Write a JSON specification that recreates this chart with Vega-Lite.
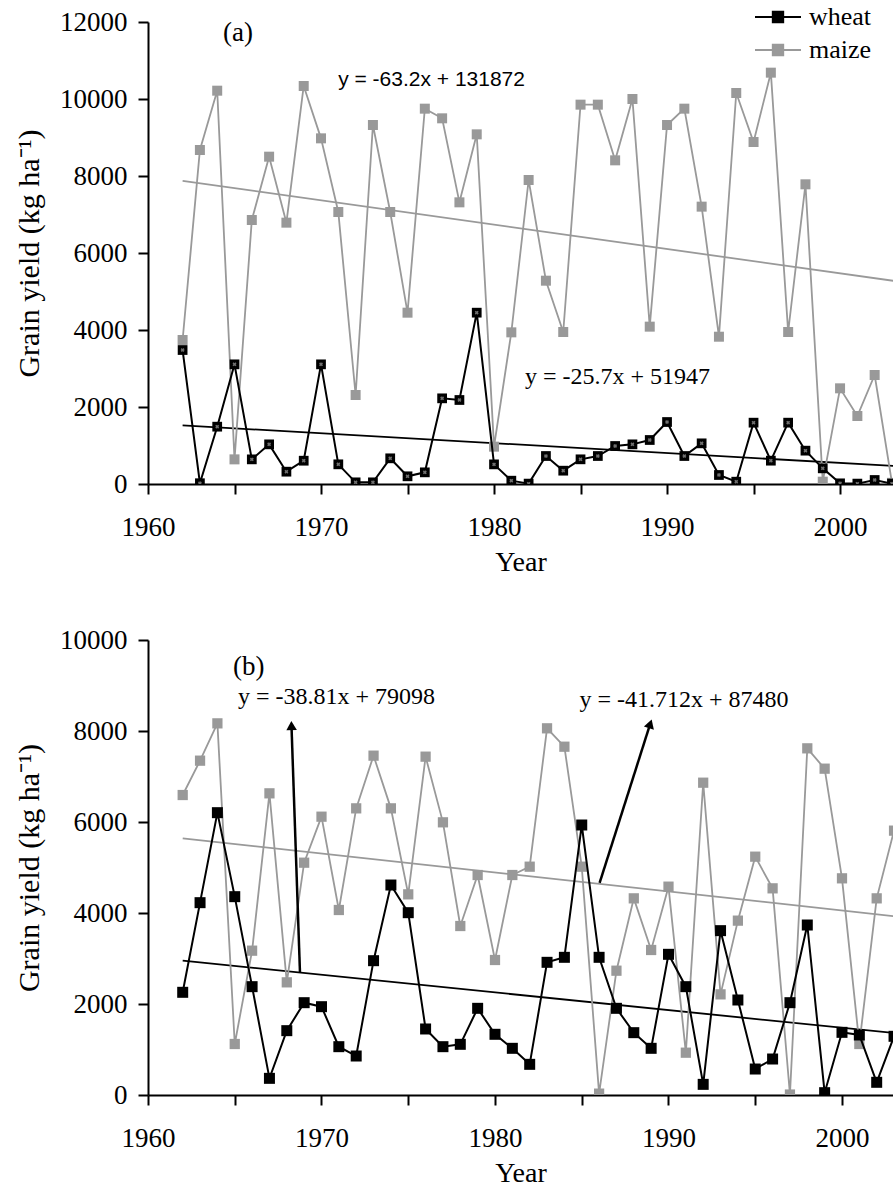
{
  "$schema": "https://vega.github.io/schema/vega-lite/v6.json",
  "background": "white",
  "padding": {"left": 14, "top": 4, "right": 0, "bottom": 0},
  "spacing": 50,
  "config": {
    "font": "Liberation Serif",
    "view": {"stroke": null},
    "axis": {
      "domainColor": "black", "domainWidth": 2,
      "tickColor": "black", "tickWidth": 2, "tickSize": 10,
      "labelFont": "Liberation Serif", "labelFontSize": 27, "labelColor": "black",
      "titleFont": "Liberation Serif", "titleFontWeight": "normal", "titleColor": "black",
      "grid": false, "labelFlush": false, "labelOverlap": false
    }
  },
  "resolve": {"scale": {"color": "independent"}, "legend": {"color": "independent"}},
  "datasets": {
    "yieldA": [
      {"crop": "maize", "year": 1962, "yield": 3740}, {"crop": "maize", "year": 1963, "yield": 8675},
      {"crop": "maize", "year": 1964, "yield": 10216}, {"crop": "maize", "year": 1965, "yield": 640},
      {"crop": "maize", "year": 1966, "yield": 6857}, {"crop": "maize", "year": 1967, "yield": 8502},
      {"crop": "maize", "year": 1968, "yield": 6788}, {"crop": "maize", "year": 1969, "yield": 10338},
      {"crop": "maize", "year": 1970, "yield": 8978}, {"crop": "maize", "year": 1971, "yield": 7065},
      {"crop": "maize", "year": 1972, "yield": 2312}, {"crop": "maize", "year": 1973, "yield": 9325},
      {"crop": "maize", "year": 1974, "yield": 7065}, {"crop": "maize", "year": 1975, "yield": 4450},
      {"crop": "maize", "year": 1976, "yield": 9749}, {"crop": "maize", "year": 1977, "yield": 9498},
      {"crop": "maize", "year": 1978, "yield": 7316}, {"crop": "maize", "year": 1979, "yield": 9082},
      {"crop": "maize", "year": 1980, "yield": 970}, {"crop": "maize", "year": 1981, "yield": 3939},
      {"crop": "maize", "year": 1982, "yield": 7896}, {"crop": "maize", "year": 1983, "yield": 5281},
      {"crop": "maize", "year": 1984, "yield": 3948}, {"crop": "maize", "year": 1985, "yield": 9853},
      {"crop": "maize", "year": 1986, "yield": 9853}, {"crop": "maize", "year": 1987, "yield": 8407},
      {"crop": "maize", "year": 1988, "yield": 10000}, {"crop": "maize", "year": 1989, "yield": 4087},
      {"crop": "maize", "year": 1990, "yield": 9325}, {"crop": "maize", "year": 1991, "yield": 9749},
      {"crop": "maize", "year": 1992, "yield": 7204}, {"crop": "maize", "year": 1993, "yield": 3826},
      {"crop": "maize", "year": 1994, "yield": 10156}, {"crop": "maize", "year": 1995, "yield": 8883},
      {"crop": "maize", "year": 1996, "yield": 10684}, {"crop": "maize", "year": 1997, "yield": 3948},
      {"crop": "maize", "year": 1998, "yield": 7784}, {"crop": "maize", "year": 1999, "yield": 60},
      {"crop": "maize", "year": 2000, "yield": 2485}, {"crop": "maize", "year": 2001, "yield": 1766},
      {"crop": "maize", "year": 2002, "yield": 2831}, {"crop": "maize", "year": 2003, "yield": 30},
      {"crop": "wheat", "year": 1962, "yield": 3480}, {"crop": "wheat", "year": 1963, "yield": 20},
      {"crop": "wheat", "year": 1964, "yield": 1489}, {"crop": "wheat", "year": 1965, "yield": 3108},
      {"crop": "wheat", "year": 1966, "yield": 640}, {"crop": "wheat", "year": 1967, "yield": 1030},
      {"crop": "wheat", "year": 1968, "yield": 320}, {"crop": "wheat", "year": 1969, "yield": 605},
      {"crop": "wheat", "year": 1970, "yield": 3108}, {"crop": "wheat", "year": 1971, "yield": 511},
      {"crop": "wheat", "year": 1972, "yield": 43}, {"crop": "wheat", "year": 1973, "yield": 43},
      {"crop": "wheat", "year": 1974, "yield": 667}, {"crop": "wheat", "year": 1975, "yield": 200},
      {"crop": "wheat", "year": 1976, "yield": 303}, {"crop": "wheat", "year": 1977, "yield": 2225},
      {"crop": "wheat", "year": 1978, "yield": 2182}, {"crop": "wheat", "year": 1979, "yield": 4450},
      {"crop": "wheat", "year": 1980, "yield": 510}, {"crop": "wheat", "year": 1981, "yield": 86},
      {"crop": "wheat", "year": 1982, "yield": 10}, {"crop": "wheat", "year": 1983, "yield": 727},
      {"crop": "wheat", "year": 1984, "yield": 346}, {"crop": "wheat", "year": 1985, "yield": 641},
      {"crop": "wheat", "year": 1986, "yield": 727}, {"crop": "wheat", "year": 1987, "yield": 987},
      {"crop": "wheat", "year": 1988, "yield": 1030}, {"crop": "wheat", "year": 1989, "yield": 1143},
      {"crop": "wheat", "year": 1990, "yield": 1610}, {"crop": "wheat", "year": 1991, "yield": 727},
      {"crop": "wheat", "year": 1992, "yield": 1056}, {"crop": "wheat", "year": 1993, "yield": 234},
      {"crop": "wheat", "year": 1994, "yield": 60}, {"crop": "wheat", "year": 1995, "yield": 1593},
      {"crop": "wheat", "year": 1996, "yield": 606}, {"crop": "wheat", "year": 1997, "yield": 1593},
      {"crop": "wheat", "year": 1998, "yield": 866}, {"crop": "wheat", "year": 1999, "yield": 407},
      {"crop": "wheat", "year": 2000, "yield": 17}, {"crop": "wheat", "year": 2001, "yield": 10},
      {"crop": "wheat", "year": 2002, "yield": 104}, {"crop": "wheat", "year": 2003, "yield": 10}
    ],
    "yieldB": [
      {"crop": "maize", "year": 1962, "yield": 6593}, {"crop": "maize", "year": 1963, "yield": 7348},
      {"crop": "maize", "year": 1964, "yield": 8168}, {"crop": "maize", "year": 1965, "yield": 1121},
      {"crop": "maize", "year": 1966, "yield": 3172}, {"crop": "maize", "year": 1967, "yield": 6630},
      {"crop": "maize", "year": 1968, "yield": 2476}, {"crop": "maize", "year": 1969, "yield": 5106},
      {"crop": "maize", "year": 1970, "yield": 6117}, {"crop": "maize", "year": 1971, "yield": 4066},
      {"crop": "maize", "year": 1972, "yield": 6300}, {"crop": "maize", "year": 1973, "yield": 7458},
      {"crop": "maize", "year": 1974, "yield": 6300}, {"crop": "maize", "year": 1975, "yield": 4410},
      {"crop": "maize", "year": 1976, "yield": 7436}, {"crop": "maize", "year": 1977, "yield": 5993},
      {"crop": "maize", "year": 1978, "yield": 3714}, {"crop": "maize", "year": 1979, "yield": 4835},
      {"crop": "maize", "year": 1980, "yield": 2967}, {"crop": "maize", "year": 1981, "yield": 4835},
      {"crop": "maize", "year": 1982, "yield": 5018}, {"crop": "maize", "year": 1983, "yield": 8059},
      {"crop": "maize", "year": 1984, "yield": 7655}, {"crop": "maize", "year": 1985, "yield": 5018},
      {"crop": "maize", "year": 1986, "yield": 30}, {"crop": "maize", "year": 1987, "yield": 2732},
      {"crop": "maize", "year": 1988, "yield": 4322}, {"crop": "maize", "year": 1989, "yield": 3187},
      {"crop": "maize", "year": 1990, "yield": 4579}, {"crop": "maize", "year": 1991, "yield": 930},
      {"crop": "maize", "year": 1992, "yield": 6864}, {"crop": "maize", "year": 1993, "yield": 2212},
      {"crop": "maize", "year": 1994, "yield": 3832}, {"crop": "maize", "year": 1995, "yield": 5238},
      {"crop": "maize", "year": 1996, "yield": 4542}, {"crop": "maize", "year": 1997, "yield": 10},
      {"crop": "maize", "year": 1998, "yield": 7619}, {"crop": "maize", "year": 1999, "yield": 7172},
      {"crop": "maize", "year": 2000, "yield": 4762}, {"crop": "maize", "year": 2001, "yield": 1121},
      {"crop": "maize", "year": 2002, "yield": 4322}, {"crop": "maize", "year": 2003, "yield": 5810},
      {"crop": "wheat", "year": 1962, "yield": 2257}, {"crop": "wheat", "year": 1963, "yield": 4227},
      {"crop": "wheat", "year": 1964, "yield": 6205}, {"crop": "wheat", "year": 1965, "yield": 4359},
      {"crop": "wheat", "year": 1966, "yield": 2381}, {"crop": "wheat", "year": 1967, "yield": 366},
      {"crop": "wheat", "year": 1968, "yield": 1414}, {"crop": "wheat", "year": 1969, "yield": 2029},
      {"crop": "wheat", "year": 1970, "yield": 1941}, {"crop": "wheat", "year": 1971, "yield": 1062},
      {"crop": "wheat", "year": 1972, "yield": 857}, {"crop": "wheat", "year": 1973, "yield": 2952},
      {"crop": "wheat", "year": 1974, "yield": 4615}, {"crop": "wheat", "year": 1975, "yield": 4007},
      {"crop": "wheat", "year": 1976, "yield": 1451}, {"crop": "wheat", "year": 1977, "yield": 1062},
      {"crop": "wheat", "year": 1978, "yield": 1114}, {"crop": "wheat", "year": 1979, "yield": 1905},
      {"crop": "wheat", "year": 1980, "yield": 1334}, {"crop": "wheat", "year": 1981, "yield": 1026},
      {"crop": "wheat", "year": 1982, "yield": 674}, {"crop": "wheat", "year": 1983, "yield": 2916},
      {"crop": "wheat", "year": 1984, "yield": 3026}, {"crop": "wheat", "year": 1985, "yield": 5934},
      {"crop": "wheat", "year": 1986, "yield": 3026}, {"crop": "wheat", "year": 1987, "yield": 1905},
      {"crop": "wheat", "year": 1988, "yield": 1370}, {"crop": "wheat", "year": 1989, "yield": 1026},
      {"crop": "wheat", "year": 1990, "yield": 3092}, {"crop": "wheat", "year": 1991, "yield": 2381},
      {"crop": "wheat", "year": 1992, "yield": 234}, {"crop": "wheat", "year": 1993, "yield": 3612},
      {"crop": "wheat", "year": 1994, "yield": 2088}, {"crop": "wheat", "year": 1995, "yield": 571},
      {"crop": "wheat", "year": 1996, "yield": 791}, {"crop": "wheat", "year": 1997, "yield": 2029},
      {"crop": "wheat", "year": 1998, "yield": 3736}, {"crop": "wheat", "year": 1999, "yield": 51},
      {"crop": "wheat", "year": 2000, "yield": 1377}, {"crop": "wheat", "year": 2001, "yield": 1319},
      {"crop": "wheat", "year": 2002, "yield": 279}, {"crop": "wheat", "year": 2003, "yield": 1290}
    ],
    "trendA": [
      {"crop": "maize", "year": 1962, "yield": 7873.6}, {"crop": "maize", "year": 2004, "yield": 5219.2},
      {"crop": "wheat", "year": 1962, "yield": 1523.6}, {"crop": "wheat", "year": 2004, "yield": 444.2}
    ],
    "trendB": [
      {"crop": "maize", "year": 1962, "yield": 5641.06}, {"crop": "maize", "year": 2004, "yield": 3889.15},
      {"crop": "wheat", "year": 1962, "yield": 2952.78}, {"crop": "wheat", "year": 2004, "yield": 1322.76}
    ],
    "one": [{}]
  },
  "vconcat": [
    {
      "width": 745,
      "height": 462,
      "layer": [
        {
          "encoding": {
            "x": {
              "field": "year", "type": "quantitative",
              "scale": {"domain": [1960, 2003.06], "nice": false, "zero": false},
              "axis": {
                "values": [1960, 1965, 1970, 1975, 1980, 1985, 1990, 1995, 2000],
                "labelExpr": "datum.value % 10 === 0 ? datum.label : ''",
                "format": "d", "title": "Year", "titleFontSize": 28,
                "labelFont": "Liberation Serif", "labelFontSize": 27,
                "labelPadding": 20, "titlePadding": 8
              }
            },
            "y": {
              "field": "yield", "type": "quantitative",
              "scale": {"domain": [0, 12000], "nice": false},
              "axis": {
                "values": [0, 2000, 4000, 6000, 8000, 10000, 12000],
                "format": "d", "title": "Grain yield (kg ha⁻¹)", "titleFontSize": 30,
                "labelFont": "Liberation Serif", "labelFontSize": 27,
                "labelPadding": 11, "titlePadding": 15
              }
            }
          },
          "layer": [
            {
              "data": {"name": "trendA"},
              "mark": {"type": "line", "strokeWidth": 1.8, "clip": true},
              "encoding": {
                "color": {
                  "field": "crop", "type": "nominal",
                  "scale": {"domain": ["wheat", "maize"], "range": ["#000000", "#999999"]},
                  "legend": {
                    "title": null, "orient": "none", "legendX": 617, "legendY": -18,
                    "direction": "vertical", "padding": 0, "rowPadding": 7,
                    "symbolType": "M-2,0H2M-0.45,-0.45H0.45V0.45H-0.45Z",
                    "symbolSize": 529, "symbolStrokeWidth": 2,
                    "labelFont": "Liberation Serif", "labelFontSize": 26, "labelColor": "black",
                    "labelOffset": 18, "values": ["wheat", "maize"],
                    "encode": {"symbols": {"update": {
                      "fill": {"signal": "datum.value === 'wheat' ? '#000000' : '#999999'"},
                      "stroke": {"signal": "datum.value === 'wheat' ? '#000000' : '#999999'"},
                      "opacity": {"value": 1}
                    }}}
                  }
                }
              }
            },
            {
              "data": {"name": "yieldA"},
              "transform": [{"filter": "datum.crop === 'maize'"}],
              "mark": {"type": "line", "strokeWidth": 1.8, "clip": true},
              "encoding": {"color": {"field": "crop", "type": "nominal", "scale": {"domain": ["wheat", "maize"], "range": ["#000000", "#999999"]}}}
            },
            {
              "data": {"name": "yieldA"},
              "transform": [{"filter": "datum.crop === 'maize'"}],
              "mark": {"type": "point", "shape": "square", "filled": true, "size": 100, "opacity": 1, "clip": true},
              "encoding": {"color": {"field": "crop", "type": "nominal", "scale": {"domain": ["wheat", "maize"], "range": ["#000000", "#999999"]}}}
            },
            {
              "data": {"name": "yieldA"},
              "transform": [{"filter": "datum.crop === 'wheat'"}],
              "mark": {"type": "line", "strokeWidth": 2, "clip": true},
              "encoding": {"color": {"field": "crop", "type": "nominal", "scale": {"domain": ["wheat", "maize"], "range": ["#000000", "#999999"]}}}
            },
            {
              "data": {"name": "yieldA"},
              "transform": [{"filter": "datum.crop === 'wheat'"}],
              "mark": {"type": "point", "shape": "square", "filled": true, "size": 95, "opacity": 1, "clip": true},
              "encoding": {"color": {"field": "crop", "type": "nominal", "scale": {"domain": ["wheat", "maize"], "range": ["#000000", "#999999"]}}}
            },
            {
              "data": {"name": "yieldA"},
              "transform": [{"filter": "datum.crop === 'wheat'"}],
              "mark": {"type": "point", "shape": "cross", "angle": 45, "filled": true, "size": 16, "opacity": 1, "color": "#6f6f6f", "clip": true}
            }
          ]
        },
        {
          "data": {"name": "one"},
          "mark": {"type": "text", "text": "(a)", "font": "Liberation Serif", "fontSize": 27, "color": "black", "align": "center", "baseline": "middle"},
          "encoding": {"x": {"datum": 1965.2}, "y": {"datum": 11714}}
        },
        {
          "data": {"name": "one"},
          "mark": {"type": "text", "text": "y = -63.2x + 131872", "font": "Liberation Sans", "fontSize": 21, "color": "black", "align": "center", "baseline": "middle"},
          "encoding": {"x": {"datum": 1976.39}, "y": {"datum": 10494}}
        },
        {
          "data": {"name": "one"},
          "mark": {"type": "text", "text": "y = -25.7x + 51947", "font": "Liberation Serif", "fontSize": 24, "color": "black", "align": "center", "baseline": "middle"},
          "encoding": {"x": {"datum": 1987.14}, "y": {"datum": 2779}}
        }
      ]
    },
    {
      "width": 745,
      "height": 455,
      "layer": [
        {
          "encoding": {
            "x": {
              "field": "year", "type": "quantitative",
              "scale": {"domain": [1960, 2002.94], "nice": false, "zero": false},
              "axis": {
                "values": [1960, 1965, 1970, 1975, 1980, 1985, 1990, 1995, 2000],
                "labelExpr": "datum.value % 10 === 0 ? datum.label : ''",
                "format": "d", "title": "Year", "titleFontSize": 28,
                "labelFont": "Liberation Serif", "labelFontSize": 27,
                "labelPadding": 20, "titlePadding": 8
              }
            },
            "y": {
              "field": "yield", "type": "quantitative",
              "scale": {"domain": [0, 10000], "nice": false},
              "axis": {
                "values": [0, 2000, 4000, 6000, 8000, 10000],
                "format": "d", "title": "Grain yield (kg ha⁻¹)", "titleFontSize": 30,
                "labelFont": "Liberation Serif", "labelFontSize": 27,
                "labelPadding": 11, "titlePadding": 15
              }
            }
          },
          "layer": [
            {
              "data": {"name": "trendB"},
              "mark": {"type": "line", "strokeWidth": 1.8, "clip": true},
              "encoding": {"color": {"field": "crop", "type": "nominal", "scale": {"domain": ["wheat", "maize"], "range": ["#000000", "#999999"]}, "legend": null}}
            },
            {
              "data": {"name": "yieldB"},
              "transform": [{"filter": "datum.crop === 'maize'"}],
              "mark": {"type": "line", "strokeWidth": 1.8, "clip": true},
              "encoding": {"color": {"field": "crop", "type": "nominal", "scale": {"domain": ["wheat", "maize"], "range": ["#000000", "#999999"]}, "legend": null}}
            },
            {
              "data": {"name": "yieldB"},
              "transform": [{"filter": "datum.crop === 'maize'"}],
              "mark": {"type": "point", "shape": "square", "filled": true, "size": 105, "opacity": 1, "clip": true},
              "encoding": {"color": {"field": "crop", "type": "nominal", "scale": {"domain": ["wheat", "maize"], "range": ["#000000", "#999999"]}, "legend": null}}
            },
            {
              "data": {"name": "yieldB"},
              "transform": [{"filter": "datum.crop === 'wheat'"}],
              "mark": {"type": "line", "strokeWidth": 2, "clip": true},
              "encoding": {"color": {"field": "crop", "type": "nominal", "scale": {"domain": ["wheat", "maize"], "range": ["#000000", "#999999"]}, "legend": null}}
            },
            {
              "data": {"name": "yieldB"},
              "transform": [{"filter": "datum.crop === 'wheat'"}],
              "mark": {"type": "point", "shape": "square", "filled": true, "size": 121, "opacity": 1, "clip": true},
              "encoding": {"color": {"field": "crop", "type": "nominal", "scale": {"domain": ["wheat", "maize"], "range": ["#000000", "#999999"]}, "legend": null}}
            }
          ]
        },
        {
          "data": {"name": "one"},
          "mark": {"type": "rule", "strokeWidth": 2.5, "color": "black"},
          "encoding": {"x": {"datum": 1968.76}, "y": {"datum": 2690}, "x2": {"datum": 1968.27}, "y2": {"datum": 8120}}
        },
        {
          "data": {"name": "one"},
          "mark": {"type": "point", "shape": "triangle-up", "filled": true, "size": 110, "angle": -2, "color": "black", "opacity": 1},
          "encoding": {"x": {"datum": 1968.27}, "y": {"datum": 8120}}
        },
        {
          "data": {"name": "one"},
          "mark": {"type": "rule", "strokeWidth": 2.5, "color": "black"},
          "encoding": {"x": {"datum": 1986.03}, "y": {"datum": 4660}, "x2": {"datum": 1988.95}, "y2": {"datum": 8160}}
        },
        {
          "data": {"name": "one"},
          "mark": {"type": "point", "shape": "triangle-up", "filled": true, "size": 110, "angle": 18, "color": "black", "opacity": 1},
          "encoding": {"x": {"datum": 1988.95}, "y": {"datum": 8160}}
        },
        {
          "data": {"name": "one"},
          "mark": {"type": "text", "text": "(b)", "font": "Liberation Serif", "fontSize": 27, "color": "black", "align": "center", "baseline": "middle"},
          "encoding": {"x": {"datum": 1965.8}, "y": {"datum": 9414}}
        },
        {
          "data": {"name": "one"},
          "mark": {"type": "text", "text": "y = -38.81x + 79098", "font": "Liberation Serif", "fontSize": 24, "color": "black", "align": "center", "baseline": "middle"},
          "encoding": {"x": {"datum": 1970.86}, "y": {"datum": 8747}}
        },
        {
          "data": {"name": "one"},
          "mark": {"type": "text", "text": "y = -41.712x + 87480", "font": "Liberation Serif", "fontSize": 24, "color": "black", "align": "center", "baseline": "middle"},
          "encoding": {"x": {"datum": 1990.89}, "y": {"datum": 8681}}
        }
      ]
    }
  ]
}
